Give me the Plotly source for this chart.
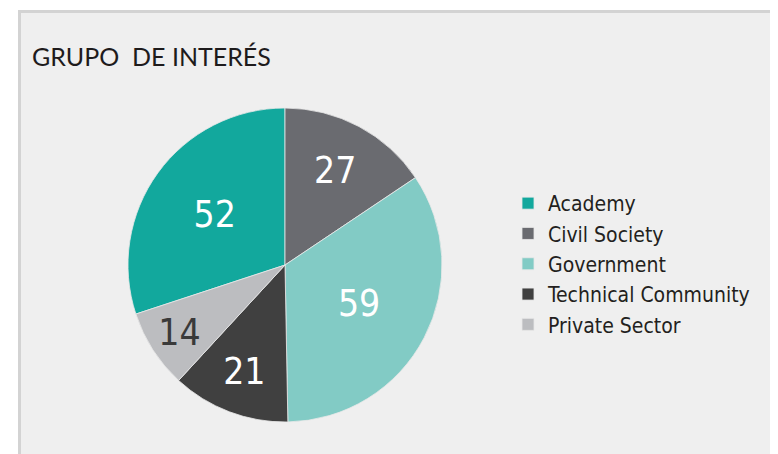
import plotly.graph_objects as go

labels = ["Academy", "Civil Society", "Government", "Technical Community", "Private Sector"]
values = [52, 27, 59, 21, 14]
colors = ["#12a89d", "#6a6b70", "#82cbc5", "#404040", "#bcbdc0"]
text_colors = ["#ffffff", "#ffffff", "#ffffff", "#ffffff", "#3a3a3a"]
title_text = "GRUPO \u00a0DE INTERÉS"

OFF = 8  # page body margin
W, H = 778 - OFF, 454 - OFF
cx, cy, r = 285 - OFF, 265 - OFF, 157

academy_angle = values[0] / sum(values) * 360
cond = "DejaVu Sans Condensed"

fig = go.Figure()
fig.add_trace(go.Pie(
    labels=labels,
    values=values,
    sort=False,
    direction="clockwise",
    rotation=-academy_angle,
    marker=dict(colors=colors, line=dict(color="#e8e8e8", width=0.8)),
    textinfo="value",
    textposition="inside",
    insidetextorientation="horizontal",
    textfont=dict(family=cond, size=37, color=text_colors),
    domain=dict(x=[(cx - r) / W, (cx + r) / W], y=[1 - (cy + r) / H, 1 - (cy - r) / H]),
    hoverinfo="label+value",
))

fig.update_layout(
    width=W, height=H,
    margin=dict(l=0, r=0, t=0, b=0),
    paper_bgcolor="#ffffff",
    plot_bgcolor="#efefef",
    title=dict(text=title_text, x=(32 - OFF) / W, xanchor="left", y=1 - (57 - OFF) / H, yanchor="middle",
               font=dict(family="Lato, Open Sans, sans-serif", size=25, color="#1e1b1c")),
    legend=dict(x=(508 - OFF) / W, xanchor="left", y=1 - (264 - OFF) / H, yanchor="middle",
                bgcolor="rgba(0,0,0,0)",
                font=dict(family=cond, size=21, color="#231f20")),
    shapes=[dict(type="rect", xref="paper", yref="paper",
                 x0=(19.5 - OFF) / W, x1=1.02, y0=-0.02, y1=1 - (11.5 - OFF) / H,
                 fillcolor="#efefef", line=dict(color="#d3d3d3", width=3), layer="below")],
)

fig.write_html("out.html")
